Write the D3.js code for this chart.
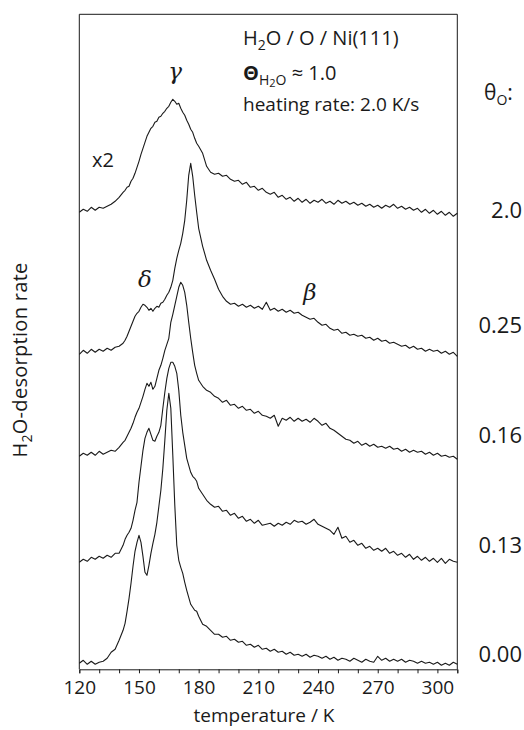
<!DOCTYPE html>
<html>
<head>
<meta charset="utf-8">
<script src="https://cdn.jsdelivr.net/npm/d3@7"></script>
<style>
  body { margin: 0; background: #fff; }
  svg { display: block; font-family: "Open Sans", "Noto Sans", sans-serif; }
</style>
</head>
<body>
<svg id="tpd" width="524" height="730"></svg>
<script>
// temperature grid (K), shared by all spectra
var temps = [120,122,124,126,128,130,132,134,136,138,140,142,
  143,144,145,146,147,148,149,150,151,152,153,154,155,156,157,158,159,160,
  161,162,163,164,165,166,167,168,169,170,171,172,173,174,175,176,177,178,179,180,
  182,184,186,188,190,192,194,196,198,200,202,204,206,208,210,212,214,216,218,220,
  222,224,226,228,230,232,234,236,238,240,242,244,246,248,250,252,254,256,258,260,
  262,264,266,268,270,272,274,276,278,280,282,284,286,288,290,292,294,296,298,300,
  302,304,306,308,310];

// oxygen precoverage of each spectrum and its vertical offset (arb. units)
var coverages = ["0.00", "0.13", "0.16", "0.25", "2.0"];
var offsets = [0.6, 10.8, 21.4, 31.6, 45.8];

// H2O desorption rate (arb. units)
var rate000 = [0.0,0.3,-0.1,0.2,-0.1,0.1,0.2,0.5,1.1,1.4,2.3,3.3,
  4.0,5.2,6.5,8.0,9.7,11.2,12.1,12.8,12.1,10.7,9.1,8.8,9.8,11.0,12.0,12.9,14.1,15.7,
  17.3,19.5,22.3,25.3,27.0,25.5,20.8,15.8,11.8,10.3,9.6,9.0,8.1,7.3,6.6,5.9,5.6,5.3,5.2,4.7,
  3.9,3.7,3.3,2.9,2.9,2.6,2.7,2.3,2.4,2.1,2.2,1.8,1.9,1.6,1.8,1.4,1.5,1.2,1.4,1.1,
  1.2,0.9,1.1,0.8,0.9,0.7,0.9,0.6,0.8,0.7,0.5,0.7,0.4,0.6,0.3,0.5,0.4,0.2,0.5,0.3,
  0.1,0.4,0.2,0.1,0.7,0.3,0.5,0.2,0.4,0.2,0.4,0.1,0.3,0.2,0.0,0.2,0.0,0.1,-0.1,0.1,
  -0.2,0.0,-0.2,0.1,-0.1];
var rate013 = [-0.1,0.2,0.0,0.4,0.2,0.5,0.3,0.6,0.4,0.8,0.8,1.6,
  2.2,2.6,2.9,3.3,4.1,5.1,5.9,7.9,9.5,11.1,12.3,12.9,13.3,12.7,12.1,12.0,12.5,12.9,
  13.6,15.3,16.9,18.3,19.3,19.9,19.9,19.5,18.8,17.1,14.6,12.9,11.6,10.3,9.6,8.9,8.5,8.3,8.0,7.3,
  6.7,6.1,5.7,5.4,5.5,5.0,5.1,4.6,4.8,4.3,4.5,4.0,4.2,3.8,4.1,3.6,3.7,3.8,3.5,3.8,
  3.6,3.9,3.7,4.1,3.9,4.0,3.7,3.9,4.2,3.7,3.5,3.3,3.1,2.7,3.4,2.3,2.5,1.9,2.1,1.6,
  1.8,1.3,1.5,1.1,1.3,1.0,1.3,0.8,1.0,0.6,0.8,0.4,0.7,0.2,0.5,0.1,0.4,0.0,0.3,-0.1,
  0.3,-0.2,0.2,0.0,-0.1];
var rate016 = [-0.1,0.2,0.0,0.3,0.0,0.4,0.1,0.3,0.5,0.4,0.8,1.3,
  1.5,1.9,2.3,2.7,3.2,3.8,4.3,4.7,5.3,5.9,6.6,7.2,6.9,7.3,6.6,6.9,7.7,8.5,
  9.0,9.7,10.5,11.1,11.7,13.3,14.1,15.0,15.9,16.8,17.3,17.0,16.3,15.0,13.3,11.7,10.3,9.0,8.2,7.5,
  6.9,6.5,6.3,5.9,5.7,5.3,5.5,5.0,5.1,4.7,4.9,4.5,4.6,4.2,4.4,4.0,3.9,3.7,4.0,2.9,
  3.7,3.5,3.8,3.4,3.7,3.4,3.6,3.3,3.7,3.4,3.0,3.2,2.7,2.5,2.2,1.9,1.6,1.5,1.2,1.4,
  1.0,1.2,0.9,1.1,0.8,0.9,0.7,0.9,0.6,0.7,0.4,0.6,0.3,0.5,0.3,0.4,0.1,0.3,0.0,0.2,
  -0.1,0.0,-0.2,-0.1,-0.4];
var rate025 = [-0.1,0.3,0.0,0.4,0.1,0.4,0.2,0.5,0.3,0.6,0.7,1.0,
  1.3,1.7,2.2,2.7,3.2,3.7,4.0,4.2,4.6,4.9,4.8,4.6,4.3,4.5,4.2,4.5,4.7,4.6,
  5.0,5.1,5.4,5.8,6.1,6.6,7.3,8.5,9.5,10.3,11.0,12.0,13.3,15.3,17.8,19.0,17.7,15.8,14.1,12.5,
  10.7,9.3,8.3,7.4,6.4,5.7,5.2,4.9,5.0,4.7,4.9,4.6,4.8,4.5,4.7,4.4,5.1,4.3,4.5,4.2,
  4.4,4.1,4.3,4.0,4.1,3.8,3.6,3.4,3.5,3.1,2.8,2.9,2.5,2.3,2.4,2.0,2.1,1.8,1.9,1.7,
  1.8,1.5,1.6,1.3,1.5,1.2,1.3,1.0,1.1,0.9,0.7,0.8,0.5,0.7,0.4,0.5,0.2,0.4,0.2,0.3,
  0.0,0.2,-0.1,0.1,-0.3];
var rate20 = [-0.1,0.2,0.0,0.4,0.1,0.4,0.3,0.5,0.7,1.0,1.4,1.9,
  2.1,2.4,2.5,3.0,3.3,3.8,4.4,5.0,5.7,6.3,6.9,7.5,7.9,8.3,8.5,8.9,9.0,9.4,
  9.5,9.8,10.0,10.3,10.5,10.9,11.2,11.0,10.7,10.8,10.3,9.9,9.6,9.1,8.7,8.2,7.9,7.3,6.8,6.5,
  5.8,4.5,3.9,3.7,3.8,3.5,3.6,3.2,3.0,3.1,2.7,2.9,2.4,2.5,2.1,2.3,1.9,1.7,1.9,1.4,
  1.6,1.2,1.4,1.0,1.3,0.9,1.2,0.8,1.1,0.9,1.2,0.8,1.0,0.7,1.1,0.8,1.0,0.7,0.9,0.6,
  0.8,0.5,0.7,0.4,0.6,0.3,0.6,0.4,0.7,0.3,0.5,0.2,0.4,0.1,0.3,-0.1,0.2,-0.2,0.1,-0.3,
  0.0,-0.4,-0.1,-0.5,-0.2];
var rates = [rate000, rate013, rate016, rate025, rate20];

var tickTemps = [120,130,140,150,160,170,180,190,200,210,220,230,240,250,260,270,280,290,300,310];
var labelTemps = [120,150,180,210,240,270,300];

var svg = d3.select("#tpd"),
  ink = "#1a1a1a";

var x = d3.scaleLinear().domain([120, 310]).range([79.3, 457.3]);
var y = d3.scaleLinear().domain([0, 65.5]).range([669.3, 14.3]);

// frame
svg.append("path")
  .attr("d", "M" + x(120) + "," + y(0) + "V" + y(65.5) + "H" + x(310) + "V" + y(0))
  .attr("fill", "none")
  .attr("stroke", ink)
  .attr("stroke-width", 1);

var xAxis = svg.append("g")
  .attr("transform", "translate(0," + y(0) + ")")
  .call(d3.axisBottom(x)
    .tickValues(tickTemps)
    .tickSize(4)
    .tickPadding(7)
    .tickFormat(function(d) { return labelTemps.indexOf(d) >= 0 ? d : ""; }));
xAxis.select(".domain").attr("stroke", ink);
xAxis.selectAll("line").attr("stroke", ink);
xAxis.selectAll("text")
  .attr("fill", ink)
  .style("font-size", "19px")
  .style("font-family", "'Open Sans', sans-serif");

// spectra
var line = d3.line()
  .x(function(d) { return x(d[0]); })
  .y(function(d) { return y(d[1]); });

for (var i = 0; i < rates.length; i++) {
  var pts = [];
  for (var j = 0; j < temps.length; j++) {
    pts.push([temps[j], rates[i][j] + offsets[i]]);
  }
  svg.append("path")
    .datum(pts)
    .attr("fill", "none")
    .attr("stroke", ink)
    .attr("stroke-width", 1.1)
    .attr("stroke-linejoin", "round")
    .attr("d", line);
}

// coverage labels on the right
var labelY = [662, 553, 443, 333, 218];
for (var i = 0; i < coverages.length; i++) {
  svg.append("text")
    .attr("x", 522)
    .attr("y", labelY[i])
    .attr("text-anchor", "end")
    .attr("fill", ink)
    .style("font-size", "22px")
    .text(coverages[i]);
}

var th = svg.append("text").attr("x", 484).attr("y", 100).attr("fill", ink).style("font-size", "21px");
th.append("tspan").text("θ");
th.append("tspan").attr("dy", 5).style("font-size", "14px").text("O");
th.append("tspan").attr("dy", -5).text(":");

// annotation block
var t1 = svg.append("text").attr("x", 243).attr("y", 45).attr("fill", ink).style("font-size", "20px");
t1.append("tspan").text("H");
t1.append("tspan").attr("dy", 5).style("font-size", "14px").text("2");
t1.append("tspan").attr("dy", -5).text("O / O / Ni(111)");

var t2 = svg.append("text").attr("x", 243).attr("y", 80).attr("fill", ink).style("font-size", "20px");
t2.append("tspan").style("font-weight", "bold").text("Θ");
t2.append("tspan").attr("dy", 5).style("font-size", "14px").text("H");
t2.append("tspan").attr("dy", 2).style("font-size", "11px").text("2");
t2.append("tspan").attr("dy", -2).style("font-size", "14px").text("O");
t2.append("tspan").attr("dy", -5).text(" ≈ 1.0");

svg.append("text").attr("x", 243).attr("y", 111).attr("fill", ink)
  .style("font-size", "19px").text("heating rate: 2.0 K/s");

// peak labels
var greek = [["γ", 175, 79], ["δ", 145, 287], ["β", 310, 300]];
greek.forEach(function(g) {
  svg.append("text")
    .attr("x", g[1]).attr("y", g[2])
    .attr("text-anchor", "middle")
    .attr("fill", ink)
    .style("font-family", "'DejaVu Serif', serif")
    .style("font-style", "italic")
    .style("font-size", "23px")
    .text(g[0]);
});

svg.append("text").attr("x", 92).attr("y", 167).attr("fill", ink)
  .style("font-size", "20px").text("x2");

// axis titles
svg.append("text")
  .attr("x", 264).attr("y", 722)
  .attr("text-anchor", "middle")
  .attr("fill", ink)
  .style("font-size", "19px")
  .text("temperature / K");

var yl = svg.append("text")
  .attr("transform", "translate(27,360) rotate(-90)")
  .attr("text-anchor", "middle")
  .attr("fill", ink)
  .style("font-size", "20px")
  .style("letter-spacing", "0.3px");
yl.append("tspan").text("H");
yl.append("tspan").attr("dy", 5).style("font-size", "14px").text("2");
yl.append("tspan").attr("dy", -5).text("O-desorption rate");
</script>
</body>
</html>
